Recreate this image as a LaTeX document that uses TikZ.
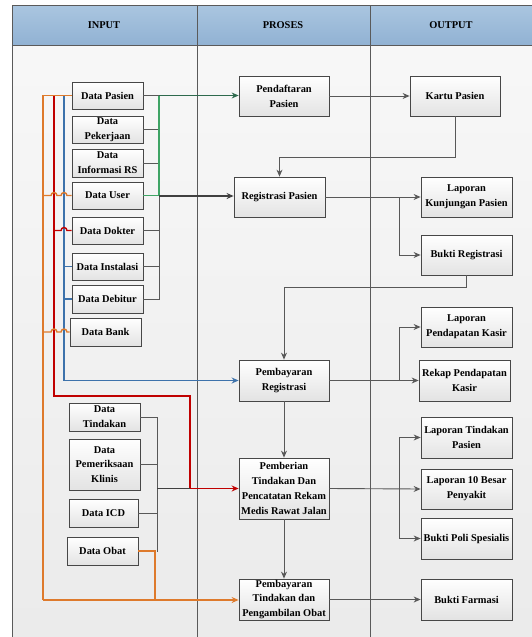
\documentclass[tikz,border=0pt]{standalone}
\usepackage{fontspec}
\setmainfont{Liberation Serif}
\usetikzlibrary{arrows.meta,shadows,calc}
\definecolor{ln}{HTML}{585858}
\definecolor{frm}{HTML}{5A5A5A}
\definecolor{orng}{HTML}{DE7A2C}
\definecolor{rd}{HTML}{C00000}
\definecolor{bl}{HTML}{3D72AB}
\definecolor{gr}{HTML}{3FA465}
\definecolor{dgr}{HTML}{2E6A4D}
\definecolor{hdtop}{HTML}{AAC6E0}
\definecolor{hdbot}{HTML}{91B2D3}
\begin{document}
\begin{tikzpicture}[x=1pt,y=-1pt,
  box/.style={draw=black!72, line width=0.8pt, top color=white, bottom color=black!11,
    drop shadow={shadow xshift=1.2pt,shadow yshift=-1.2pt,opacity=0.35},
    align=center, font=\bfseries\fontsize{10.4}{14.8}\selectfont, inner sep=0pt},
  conn/.style={draw=ln, line width=0.9pt},
  colr/.style={line width=1.4pt},
  arr/.style={-{Stealth[length=7pt,width=6pt]}},
  hdr/.style={font=\bfseries\fontsize{10.4}{12}\selectfont}
]
\useasboundingbox (0,0) rectangle (532,637);
\begin{scope}
\clip (0,0) rectangle (532,637);
% background and frame
\shade[top color=white!97!black, bottom color=white!92!black] (12,45) rectangle (540,650);
\shade[top color=hdtop, bottom color=hdbot] (12,5) rectangle (540,45);
\draw[frm, line width=0.9pt] (540,5) -- (12,5) -- (12,650);
\draw[frm, line width=0.9pt] (12,45) -- (540,45);
\draw[frm, line width=0.9pt] (197,5) -- (197,650);
\draw[frm, line width=0.9pt] (370,5) -- (370,650);
\end{scope}
\node[hdr] (hin) at (104,25) {INPUT};
\node[hdr] (hpr) at (283,25) {PROSES};
\node[hdr] (hout) at (451,25) {OUTPUT};

% input boxes
\node[box, minimum width=71pt, minimum height=27pt] (pasien) at (107.5,95.5) {Data Pasien};
\node[box, minimum width=71pt, minimum height=27pt] (pekerjaan) at (107.5,129.5) {Data\\Pekerjaan};
\node[box, minimum width=71pt, minimum height=28pt] (infors) at (107.5,163) {Data\\Informasi RS};
\node[box, minimum width=71pt, minimum height=27pt] (user) at (107.5,195.5) {Data User};
\node[box, minimum width=71pt, minimum height=27pt] (dokter) at (107.5,230.5) {Data Dokter};
\node[box, minimum width=71pt, minimum height=27pt] (instalasi) at (107.5,266.5) {Data Instalasi};
\node[box, minimum width=71pt, minimum height=28pt] (debitur) at (107.5,299) {Data Debitur};
\node[box, minimum width=71pt, minimum height=28pt] (bank) at (105.5,332) {Data Bank};
\node[box, minimum width=71pt, minimum height=28pt] (tindakan) at (104.5,417) {Data\\Tindakan};
\node[box, minimum width=71pt, minimum height=51pt] (periksa) at (104.5,464.5) {Data\\Pemeriksaan\\Klinis};
\node[box, minimum width=69pt, minimum height=28pt] (icd) at (103.5,513) {Data ICD};
\node[box, minimum width=71pt, minimum height=28pt] (obat) at (102.5,551) {Data Obat};

% process boxes
\node[box, minimum width=90pt, minimum height=40pt] (daftar) at (284,96) {Pendaftaran\\Pasien};
\node[box, minimum width=91pt, minimum height=40pt] (regis) at (279.5,197) {Registrasi Pasien};
\node[box, minimum width=90pt, minimum height=41pt] (bayarreg) at (284,380.5) {Pembayaran\\Registrasi};
\node[box, minimum width=90pt, minimum height=61pt] (beri) at (284,488.5) {Pemberian\\Tindakan Dan\\Pencatatan Rekam\\Medis Rawat Jalan};
\node[box, minimum width=90pt, minimum height=41pt] (bayartin) at (284,599.5) {Pembayaran\\Tindakan dan\\Pengambilan Obat};

% output boxes
\node[box, minimum width=90pt, minimum height=40pt] (kartu) at (455,96) {Kartu Pasien};
\node[box, minimum width=91pt, minimum height=40pt] (kunjungan) at (466.5,197) {Laporan\\Kunjungan Pasien};
\node[box, minimum width=91pt, minimum height=40pt] (buktireg) at (466.5,255) {Bukti Registrasi};
\node[box, minimum width=91pt, minimum height=40pt] (lapkasir) at (466.5,327) {Laporan\\Pendapatan Kasir};
\node[box, minimum width=91pt, minimum height=41pt] (rekap) at (464.5,380.5) {Rekap Pendapatan\\Kasir};
\node[box, minimum width=91pt, minimum height=41pt] (laptin) at (466.5,437.5) {Laporan Tindakan\\Pasien};
\node[box, minimum width=91pt, minimum height=40pt] (lap10) at (466.5,489) {Laporan 10 Besar\\Penyakit};
\node[box, minimum width=91pt, minimum height=41pt] (poli) at (466.5,538.5) {Bukti Poli Spesialis};
\node[box, minimum width=91pt, minimum height=41pt] (farmasi) at (466.5,599.5) {Bukti Farmasi};

% ---- right side of upper input group
\draw[conn] (pasien.east) -- (159,95.5);
\draw[conn] (pekerjaan.east) -- (159,129.5);
\draw[conn] (infors.east) -- (159,163);
\draw[gr, line width=1.1pt] (user.east) -- (159,195.5) -- (159,95.5);
\draw[dgr, line width=1.1pt, arr] (159,95.5) -- (daftar.west |- 0,95.5);
\draw[conn] (dokter.east) -- (159,230.5);
\draw[conn] (instalasi.east) -- (159,266.5);
\draw[conn] (debitur.east) -- (159,299) -- (159,195.5);
\draw[draw=black!75, line width=1.2pt, arr] (159,196) -- (regis.west |- 0,196);

% ---- left side coloured lines
% blue
\draw[bl, colr] (64,95.5) -- (64,380.5);
\draw[bl, colr, arr] (64,380.5) -- (bayarreg.west);
\draw[bl, colr] (64,266.5) -- (instalasi.west);
\draw[bl, colr] (64,299) -- (debitur.west);
% red
\draw[rd, colr] (54,95.5) -- (54,396) -- (190,396) -- (190,488.5);
\draw[rd, colr, arr] (190,488.5) -- (beri.west);
\draw[rd, colr] (54,230.5) -- (61,230.5) arc (180:360:3) -- (dokter.west);
% orange
\draw[orng, colr] (pasien.west) -- (43,95.5) -- (43,600);
\draw[orng, colr] (43,195.5) -- (51,195.5) arc (180:360:3) -- (61,195.5) arc (180:360:3) -- (user.west);
\draw[orng, colr] (43,332) -- (51,332) arc (180:360:3) -- (61,332) arc (180:360:3) -- (bank.west);
\draw[orng, colr, arr] (43,600) -- (bayartin.west |- 0,600);
\draw[orng, colr] (obat.east) -- (155,551) -- (155,600);

% ---- lower input group
\draw[conn] (tindakan.east) -- (157,417);
\draw[conn] (periksa.east) -- (157,464.5);
\draw[conn] (icd.east) -- (157,513);
\draw[conn] (157,417) -- (157,552);
\draw[draw=black!75, line width=1.2pt] (157,488.5) -- (190,488.5);

% ---- process connectors
\draw[conn, arr] (daftar.east) -- (kartu.west);
\draw[conn, arr] (kartu.south) -- (455,157) -- (279.5,157) -- (regis.north);
\draw[conn, arr] (regis.east) -- (kunjungan.west);
\draw[conn, arr] (399,197) -- (399,255) -- (buktireg.west);
\draw[conn, arr] (buktireg.south) -- (466.5,287) -- (284,287) -- (bayarreg.north);
\draw[conn, arr] (bayarreg.east) -- (rekap.west);
\draw[conn, arr] (399,380.5) -- (399,327) -- (lapkasir.west);
\draw[conn, arr] (bayarreg.south) -- (beri.north);
\draw[conn, arr] (beri.east) -- (lap10.west);
\draw[conn, arr] (399,489) -- (399,437.5) -- (laptin.west);
\draw[conn, arr] (399,489) -- (399,538.5) -- (poli.west);
\draw[conn, arr] (beri.south) -- (bayartin.north);
\draw[conn, arr] (bayartin.east) -- (farmasi.west);
\end{tikzpicture}
\end{document}
